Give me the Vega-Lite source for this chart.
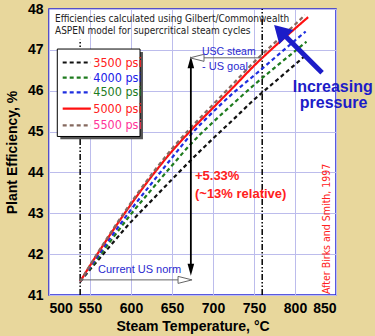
{
  "$schema": "https://vega.github.io/schema/vega-lite/v6.json",
  "width": 287,
  "height": 286,
  "autosize": {"type": "none"},
  "padding": {"left": 49, "top": 9, "right": 39, "bottom": 41},
  "background": "#e8d79c",
  "config": {
    "view": {"fill": "white", "stroke": "#2323d6", "strokeWidth": 1.5},
    "axis": {
      "labelFont": "Liberation Sans", "labelFontWeight": "bold", "labelFontSize": 14, "labelColor": "#000",
      "titleFont": "Liberation Sans", "titleFontWeight": "bold", "titleFontSize": 14, "titleColor": "#000",
      "domain": false, "ticks": false, "gridColor": "#bcbcec", "gridWidth": 1, "gridOpacity": 1
    }
  },
  "datasets": {
    "curves": [
      {"series": "3500 psi", "t": 538, "eff": 41.33}, {"series": "3500 psi", "t": 550, "eff": 41.62}, {"series": "3500 psi", "t": 575, "eff": 42.21}, {"series": "3500 psi", "t": 600, "eff": 42.79}, {"series": "3500 psi", "t": 625, "eff": 43.31}, {"series": "3500 psi", "t": 650, "eff": 43.83}, {"series": "3500 psi", "t": 675, "eff": 44.34}, {"series": "3500 psi", "t": 700, "eff": 44.83}, {"series": "3500 psi", "t": 725, "eff": 45.30}, {"series": "3500 psi", "t": 750, "eff": 45.78}, {"series": "3500 psi", "t": 775, "eff": 46.21}, {"series": "3500 psi", "t": 800, "eff": 46.64}, {"series": "3500 psi", "t": 812, "eff": 46.85},
      {"series": "4000 psi", "t": 538, "eff": 41.33}, {"series": "4000 psi", "t": 550, "eff": 41.65}, {"series": "4000 psi", "t": 575, "eff": 42.32}, {"series": "4000 psi", "t": 600, "eff": 42.98}, {"series": "4000 psi", "t": 625, "eff": 43.58}, {"series": "4000 psi", "t": 650, "eff": 44.17}, {"series": "4000 psi", "t": 675, "eff": 44.74}, {"series": "4000 psi", "t": 700, "eff": 45.23}, {"series": "4000 psi", "t": 725, "eff": 45.69}, {"series": "4000 psi", "t": 750, "eff": 46.14}, {"series": "4000 psi", "t": 775, "eff": 46.56}, {"series": "4000 psi", "t": 800, "eff": 46.97}, {"series": "4000 psi", "t": 814, "eff": 47.2},
      {"series": "4500 psi", "t": 538, "eff": 41.33}, {"series": "4500 psi", "t": 550, "eff": 41.68}, {"series": "4500 psi", "t": 575, "eff": 42.40}, {"series": "4500 psi", "t": 600, "eff": 43.09}, {"series": "4500 psi", "t": 625, "eff": 43.73}, {"series": "4500 psi", "t": 650, "eff": 44.36}, {"series": "4500 psi", "t": 675, "eff": 44.97}, {"series": "4500 psi", "t": 700, "eff": 45.48}, {"series": "4500 psi", "t": 725, "eff": 45.95}, {"series": "4500 psi", "t": 750, "eff": 46.37}, {"series": "4500 psi", "t": 775, "eff": 46.80}, {"series": "4500 psi", "t": 800, "eff": 47.23}, {"series": "4500 psi", "t": 813, "eff": 47.45},
      {"series": "5000 psi", "t": 538, "eff": 41.33}, {"series": "5000 psi", "t": 550, "eff": 41.72}, {"series": "5000 psi", "t": 575, "eff": 42.49}, {"series": "5000 psi", "t": 600, "eff": 43.22}, {"series": "5000 psi", "t": 625, "eff": 43.90}, {"series": "5000 psi", "t": 650, "eff": 44.52}, {"series": "5000 psi", "t": 675, "eff": 45.07}, {"series": "5000 psi", "t": 700, "eff": 45.58}, {"series": "5000 psi", "t": 725, "eff": 46.09}, {"series": "5000 psi", "t": 750, "eff": 46.61}, {"series": "5000 psi", "t": 775, "eff": 47.08}, {"series": "5000 psi", "t": 800, "eff": 47.52}, {"series": "5000 psi", "t": 816, "eff": 47.8},
      {"series": "5500 psi", "t": 538, "eff": 41.33}, {"series": "5500 psi", "t": 550, "eff": 41.73}, {"series": "5500 psi", "t": 575, "eff": 42.52}, {"series": "5500 psi", "t": 600, "eff": 43.26}, {"series": "5500 psi", "t": 625, "eff": 43.95}, {"series": "5500 psi", "t": 650, "eff": 44.58}, {"series": "5500 psi", "t": 675, "eff": 45.14}, {"series": "5500 psi", "t": 700, "eff": 45.66}, {"series": "5500 psi", "t": 725, "eff": 46.18}, {"series": "5500 psi", "t": 750, "eff": 46.70}, {"series": "5500 psi", "t": 775, "eff": 47.17}, {"series": "5500 psi", "t": 800, "eff": 47.62}, {"series": "5500 psi", "t": 812, "eff": 47.85}
    ]
  },
  "layer": [
    {
      "data": {"values": [{"k": 1}]},
      "mark": {"type": "rule", "color": "#000", "strokeWidth": 1.5, "strokeDash": [6, 2, 1.5, 2, 1.5, 2]},
      "encoding": {
        "x": {"datum": 538, "type": "quantitative", "scale": {"domain": [500, 850], "nice": false, "zero": false}, "axis": {"values": [500, 550, 600, 650, 700, 750, 800, 850], "title": "Steam Temperature, °C", "labelPadding": 6, "titlePadding": 4, "grid": true}},
        "y": {"datum": 41, "type": "quantitative", "scale": {"domain": [41, 48], "nice": false, "zero": false}, "axis": {"values": [41, 42, 43, 44, 45, 46, 47, 48], "title": "Plant Efficiency, %", "labelPadding": 6, "titlePadding": 8, "grid": true}},
        "y2": {"datum": 47.25}
      }
    },
    {
      "data": {"values": [{"k": 1}]},
      "mark": {"type": "rule", "color": "#000", "strokeWidth": 1.5, "strokeDash": [6, 2, 1.5, 2, 1.5, 2]},
      "encoding": {"x": {"datum": 760}, "y": {"datum": 41}, "y2": {"datum": 48}}
    },
    {
      "data": {"name": "curves"},
      "mark": {"type": "line", "interpolate": "monotone"},
      "encoding": {
        "x": {"field": "t", "type": "quantitative"},
        "y": {"field": "eff", "type": "quantitative"},
        "color": {"field": "series", "type": "nominal", "scale": {"domain": ["3500 psi", "4000 psi", "4500 psi", "5000 psi", "5500 psi"], "range": ["#111111", "#1e7b1e", "#1f2fe0", "#ff1010", "#85695f"]}, "legend": null},
        "strokeDash": {"field": "series", "type": "nominal", "scale": {"domain": ["3500 psi", "4000 psi", "4500 psi", "5000 psi", "5500 psi"], "range": [[4, 3], [4, 3], [4, 3], [1, 0], [4, 3]]}, "legend": null},
        "strokeWidth": {"field": "series", "type": "ordinal", "scale": {"domain": ["3500 psi", "4000 psi", "4500 psi", "5000 psi", "5500 psi"], "range": [2.2, 2.2, 2.2, 3.2, 2.2]}, "legend": null}
      }
    },
    {
      "data": {"values": [{"k": 1}]},
      "mark": {"type": "rule", "color": "#000", "strokeWidth": 1.8},
      "encoding": {"x": {"datum": 673}, "y": {"datum": 41.6}, "y2": {"datum": 46.7}}
    },
    {
      "data": {"values": [{"k": 1}]},
      "mark": {"type": "point", "shape": "M0,-1L0.55,1L-0.55,1Z", "size": 144, "filled": true, "color": "#000", "opacity": 1},
      "encoding": {"x": {"datum": 673}, "y": {"datum": 46.694}}
    },
    {
      "data": {"values": [{"k": 1}]},
      "mark": {"type": "point", "shape": "M0,-1L0.55,1L-0.55,1Z", "angle": 180, "size": 144, "filled": true, "color": "#000", "opacity": 1},
      "encoding": {"x": {"datum": 673}, "y": {"datum": 41.616}}
    },
    {
      "data": {"values": [{"k": 1}]},
      "mark": {"type": "rule", "color": "#666", "strokeWidth": 1},
      "encoding": {"x": {"datum": 538}, "x2": {"datum": 658}, "y": {"datum": 41.37}}
    },
    {
      "data": {"values": [{"k": 1}]},
      "mark": {"type": "point", "shape": "M1,0L-1,-0.5L-1,0.5Z", "size": 196, "filled": true, "fill": "white", "stroke": "#666", "strokeWidth": 1, "opacity": 1},
      "encoding": {"x": {"datum": 665.9}, "y": {"datum": 41.37}}
    },
    {
      "data": {"values": [{"k": 1}]},
      "mark": {"type": "rule", "color": "#666", "strokeWidth": 1},
      "encoding": {"x": {"datum": 689}, "x2": {"datum": 760}, "y": {"datum": 46.805}}
    },
    {
      "data": {"values": [{"k": 1}]},
      "mark": {"type": "point", "shape": "M-1,0L1,-0.5L1,0.5Z", "size": 196, "filled": true, "fill": "white", "stroke": "#666", "strokeWidth": 1, "opacity": 1},
      "encoding": {"x": {"datum": 680.5}, "y": {"datum": 46.805}}
    },
    {
      "data": {"values": [{"k": 1}]},
      "mark": {"type": "rule", "color": "#1c1cc8", "strokeWidth": 5},
      "encoding": {"x": {"datum": 833}, "x2": {"datum": 782}, "y": {"datum": 46.44}, "y2": {"datum": 47.46}}
    },
    {
      "data": {"values": [{"k": 1}]},
      "mark": {"type": "point", "shape": "triangle-up", "angle": -45, "size": 400, "filled": true, "color": "#1c1cc8", "opacity": 1},
      "encoding": {"x": {"datum": 782}, "y": {"datum": 47.46}}
    },
    {
      "data": {"values": [{"k": 1}]},
      "mark": {"type": "rect", "fill": "#555", "stroke": null},
      "encoding": {"x": {"datum": 513.8}, "x2": {"datum": 614.6}, "y": {"datum": 46.95}, "y2": {"datum": 44.81}}
    },
    {
      "data": {"values": [{"k": 1}]},
      "mark": {"type": "rect", "fill": "white", "stroke": "#000", "strokeWidth": 1},
      "encoding": {"x": {"datum": 510.1}, "x2": {"datum": 611}, "y": {"datum": 47.02}, "y2": {"datum": 44.88}}
    },
    {"data": {"values": [{"series": "3500 psi"}]}, "mark": {"type": "rule"}, "encoding": {"x": {"datum": 516.7}, "x2": {"datum": 551}, "y": {"datum": 46.69}, "color": {"field": "series", "type": "nominal"}, "strokeDash": {"field": "series", "type": "nominal"}, "strokeWidth": {"field": "series", "type": "ordinal"}}},
    {"data": {"values": [{"series": "4000 psi"}]}, "mark": {"type": "rule"}, "encoding": {"x": {"datum": 516.7}, "x2": {"datum": 551}, "y": {"datum": 46.32}, "color": {"field": "series", "type": "nominal"}, "strokeDash": {"field": "series", "type": "nominal"}, "strokeWidth": {"field": "series", "type": "ordinal"}}},
    {"data": {"values": [{"series": "4500 psi"}]}, "mark": {"type": "rule"}, "encoding": {"x": {"datum": 516.7}, "x2": {"datum": 551}, "y": {"datum": 45.96}, "color": {"field": "series", "type": "nominal"}, "strokeDash": {"field": "series", "type": "nominal"}, "strokeWidth": {"field": "series", "type": "ordinal"}}},
    {"data": {"values": [{"series": "5000 psi"}]}, "mark": {"type": "rule"}, "encoding": {"x": {"datum": 516.7}, "x2": {"datum": 551}, "y": {"datum": 45.56}, "color": {"field": "series", "type": "nominal"}, "strokeDash": {"field": "series", "type": "nominal"}, "strokeWidth": {"field": "series", "type": "ordinal"}}},
    {"data": {"values": [{"series": "5500 psi"}]}, "mark": {"type": "rule"}, "encoding": {"x": {"datum": 516.7}, "x2": {"datum": 551}, "y": {"datum": 45.15}, "color": {"field": "series", "type": "nominal"}, "strokeDash": {"field": "series", "type": "nominal"}, "strokeWidth": {"field": "series", "type": "ordinal"}}},
    {"data": {"values": [{"label": "3500 psi"}]}, "mark": {"type": "text", "align": "left", "baseline": "middle", "font": "Liberation Sans Narrow, Arial Narrow, DejaVu Sans Condensed, sans-serif", "fontSize": 12.5, "color": "#ff2020"}, "encoding": {"x": {"datum": 554}, "y": {"datum": 46.69}, "text": {"field": "label"}}},
    {"data": {"values": [{"label": "4000 psi"}]}, "mark": {"type": "text", "align": "left", "baseline": "middle", "font": "Liberation Sans Narrow, Arial Narrow, DejaVu Sans Condensed, sans-serif", "fontSize": 12.5, "color": "#2020e8"}, "encoding": {"x": {"datum": 554}, "y": {"datum": 46.32}, "text": {"field": "label"}}},
    {"data": {"values": [{"label": "4500 psi"}]}, "mark": {"type": "text", "align": "left", "baseline": "middle", "font": "Liberation Sans Narrow, Arial Narrow, DejaVu Sans Condensed, sans-serif", "fontSize": 12.5, "color": "#1e7b1e"}, "encoding": {"x": {"datum": 554}, "y": {"datum": 45.96}, "text": {"field": "label"}}},
    {"data": {"values": [{"label": "5000 psi"}]}, "mark": {"type": "text", "align": "left", "baseline": "middle", "font": "Liberation Sans Narrow, Arial Narrow, DejaVu Sans Condensed, sans-serif", "fontSize": 12.5, "color": "#ff2020"}, "encoding": {"x": {"datum": 554}, "y": {"datum": 45.56}, "text": {"field": "label"}}},
    {"data": {"values": [{"label": "5500 psi"}]}, "mark": {"type": "text", "align": "left", "baseline": "middle", "font": "Liberation Sans Narrow, Arial Narrow, DejaVu Sans Condensed, sans-serif", "fontSize": 12.5, "color": "#ff3399"}, "encoding": {"x": {"datum": 554}, "y": {"datum": 45.15}, "text": {"field": "label"}}},
    {"data": {"values": [{"label": "Efficiencies calculated using Gilbert/Commonwealth"}]}, "mark": {"type": "text", "align": "left", "baseline": "middle", "font": "Liberation Sans Narrow, Arial Narrow, DejaVu Sans Condensed, sans-serif", "fontSize": 10, "color": "#222"}, "encoding": {"x": {"datum": 507.3}, "y": {"datum": 47.76}, "text": {"field": "label"}}},
    {"data": {"values": [{"label": "ASPEN model for supercritical steam cycles"}]}, "mark": {"type": "text", "align": "left", "baseline": "middle", "font": "Liberation Sans Narrow, Arial Narrow, DejaVu Sans Condensed, sans-serif", "fontSize": 10, "color": "#222"}, "encoding": {"x": {"datum": 507.3}, "y": {"datum": 47.45}, "text": {"field": "label"}}},
    {"data": {"values": [{"label": "USC steam"}]}, "mark": {"type": "text", "align": "left", "baseline": "middle", "font": "Liberation Sans", "fontSize": 10.5, "color": "#2a2ad0"}, "encoding": {"x": {"datum": 686.6}, "y": {"datum": 46.95}, "text": {"field": "label"}}},
    {"data": {"values": [{"label": "- US goal"}]}, "mark": {"type": "text", "align": "left", "baseline": "middle", "font": "Liberation Sans", "fontSize": 11, "color": "#2a2ad0"}, "encoding": {"x": {"datum": 686.6}, "y": {"datum": 46.57}, "text": {"field": "label"}}},
    {"data": {"values": [{"label": "Current US norm"}]}, "mark": {"type": "text", "align": "left", "baseline": "middle", "font": "Liberation Sans", "fontSize": 11, "color": "#2a2ad0"}, "encoding": {"x": {"datum": 559.8}, "y": {"datum": 41.62}, "text": {"field": "label"}}},
    {"data": {"values": [{"label": "+5.33%"}]}, "mark": {"type": "text", "align": "left", "baseline": "middle", "font": "Liberation Sans", "fontWeight": "bold", "fontSize": 13, "color": "#ff2020"}, "encoding": {"x": {"datum": 678}, "y": {"datum": 43.91}, "text": {"field": "label"}}},
    {"data": {"values": [{"label": "(~13% relative)"}]}, "mark": {"type": "text", "align": "left", "baseline": "middle", "font": "Liberation Sans", "fontWeight": "bold", "fontSize": 13, "color": "#ff2020"}, "encoding": {"x": {"datum": 678}, "y": {"datum": 43.46}, "text": {"field": "label"}}},
    {"data": {"values": [{"label": "After Birks and Smith, 1997"}]}, "mark": {"type": "text", "align": "center", "baseline": "middle", "angle": 270, "font": "Liberation Sans Narrow, Arial Narrow, DejaVu Sans Condensed, sans-serif", "fontSize": 10.5, "color": "#ff2020"}, "encoding": {"x": {"datum": 838.6}, "y": {"datum": 42.62}, "text": {"field": "label"}}},
    {"data": {"values": [{"label": "Increasing"}]}, "mark": {"type": "text", "align": "center", "baseline": "middle", "font": "Liberation Sans", "fontWeight": "bold", "fontSize": 16, "color": "#1c1cc8"}, "encoding": {"x": {"datum": 846}, "y": {"datum": 46.1}, "text": {"field": "label"}}},
    {"data": {"values": [{"label": "pressure"}]}, "mark": {"type": "text", "align": "center", "baseline": "middle", "font": "Liberation Sans", "fontWeight": "bold", "fontSize": 16, "color": "#1c1cc8"}, "encoding": {"x": {"datum": 847}, "y": {"datum": 45.7}, "text": {"field": "label"}}}
  ]
}
